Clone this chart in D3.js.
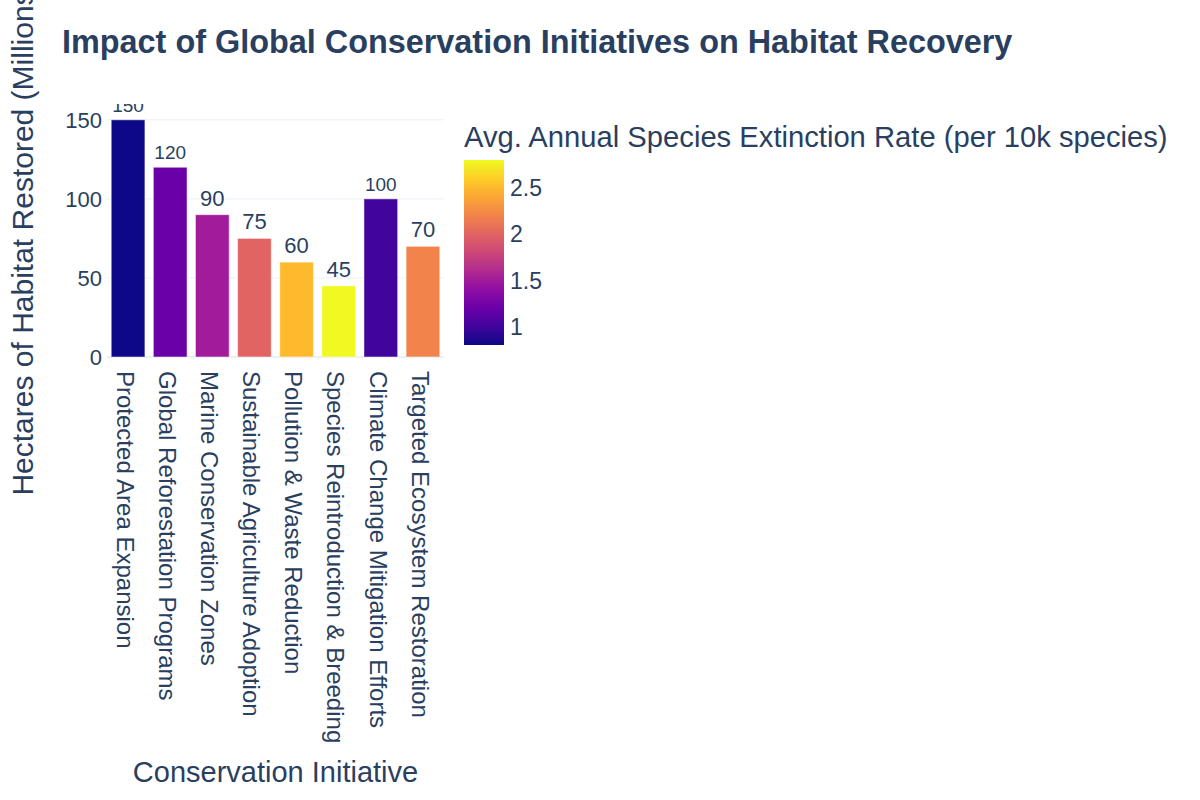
<!DOCTYPE html>
<html>
<head>
<meta charset="utf-8">
<script src="https://cdn.jsdelivr.net/npm/d3@7"></script>
<style>
  body { margin: 0; background: #fff; }
  svg { font-family: "Liberation Sans", Arial, sans-serif; }
</style>
</head>
<body>
<div id="chart"></div>
<script>
// chart data
var initiatives = [
  "Protected Area Expansion",
  "Global Reforestation Programs",
  "Marine Conservation Zones",
  "Sustainable Agriculture Adoption",
  "Pollution & Waste Reduction",
  "Species Reintroduction & Breeding",
  "Climate Change Mitigation Efforts",
  "Targeted Ecosystem Restoration"
];
var hectares = [150, 120, 90, 75, 60, 45, 100, 70];
var extinctionRate = [0.8, 1.2, 1.5, 2.0, 2.5, 2.8, 1.0, 2.2];
var yTicks = [0, 50, 100, 150];
var colorTicks = [1, 1.5, 2, 2.5];

var width = 1200, height = 800;
var textColor = "#2a3f5f";

// plot area
var plotLeft = 107, plotRight = 444, plotTop = 104, plotBottom = 357;

var svg = d3.select("#chart").append("svg")
  .attr("width", width)
  .attr("height", height);

var x = d3.scaleBand()
  .domain(initiatives)
  .range([plotLeft, plotRight])
  .paddingInner(0.2)
  .paddingOuter(0.1);

var y = d3.scaleLinear()
  .domain([0, 160])
  .range([plotBottom, plotTop]);

var color = d3.scaleSequential(d3.interpolatePlasma)
  .domain([d3.min(extinctionRate), d3.max(extinctionRate)]);

// gridlines
svg.append("g")
  .selectAll("line")
  .data(yTicks)
  .enter()
  .append("line")
  .attr("x1", plotLeft).attr("x2", plotRight)
  .attr("y1", function(d) { return y(d); })
  .attr("y2", function(d) { return y(d); })
  .attr("stroke", "#ebf0f8")
  .attr("stroke-width", function(d) { return d === 0 ? 2 : 1; });

// y tick labels
svg.append("g")
  .selectAll("text")
  .data(yTicks)
  .enter()
  .append("text")
  .attr("x", plotLeft - 5)
  .attr("y", function(d) { return y(d); })
  .attr("dy", "0.36em")
  .attr("text-anchor", "end")
  .attr("font-size", 22)
  .attr("fill", textColor)
  .text(function(d) { return d; });

svg.append("clipPath")
  .attr("id", "plot-clip")
  .append("rect")
  .attr("x", plotLeft).attr("y", plotTop)
  .attr("width", plotRight - plotLeft).attr("height", plotBottom - plotTop);

// bars
svg.append("g")
  .selectAll("rect")
  .data(initiatives)
  .enter()
  .append("rect")
  .attr("x", function(d) { return x(d); })
  .attr("y", function(d, i) { return y(hectares[i]); })
  .attr("width", x.bandwidth())
  .attr("height", function(d, i) { return y(0) - y(hectares[i]); })
  .attr("fill", function(d, i) { return color(extinctionRate[i]); })
  .attr("stroke", "rgba(255,255,255,0.5)")
  .attr("stroke-width", 1);

// value labels above bars, shrunk to fit the bar width
svg.append("g")
  .attr("clip-path", "url(#plot-clip)")
  .selectAll("text")
  .data(initiatives)
  .enter()
  .append("text")
  .attr("x", function(d) { return x(d) + x.bandwidth() / 2; })
  .attr("text-anchor", "middle")
  .attr("font-size", 22)
  .attr("fill", textColor)
  .text(function(d, i) { return hectares[i]; })
  .each(function(d, i) {
    var fs = 22;
    var w = this.getComputedTextLength();
    if (w > x.bandwidth() - 2) {
      fs = fs * (x.bandwidth() - 2) / w;
    }
    d3.select(this)
      .attr("font-size", fs)
      .attr("y", y(hectares[i]) - 3 - fs * 0.27);
  });

// x tick labels (rotated)
svg.append("g")
  .selectAll("text")
  .data(initiatives)
  .enter()
  .append("text")
  .attr("transform", function(d) {
    return "translate(" + (x(d) + x.bandwidth() / 2) + "," + (plotBottom + 14) + ") rotate(90)";
  })
  .attr("dy", "0.47em")
  .attr("font-size", 24)
  .attr("fill", textColor)
  .text(function(d) { return d; });

// axis titles
svg.append("text")
  .attr("x", (plotLeft + plotRight) / 2)
  .attr("y", 782)
  .attr("text-anchor", "middle")
  .attr("font-size", 29)
  .attr("fill", textColor)
  .text("Conservation Initiative");

svg.append("text")
  .attr("transform", "translate(33,238) rotate(-90)")
  .attr("text-anchor", "middle")
  .attr("font-size", 30)
  .attr("fill", textColor)
  .text("Hectares of Habitat Restored (Millions)");

// title
svg.append("text")
  .attr("x", 62)
  .attr("y", 53)
  .attr("font-size", 32.4)
  .attr("font-weight", "bold")
  .attr("fill", textColor)
  .text("Impact of Global Conservation Initiatives on Habitat Recovery");

// colorbar
var cbX = 464, cbW = 40, cbTop = 160, cbBottom = 345;
var cScale = d3.scaleLinear()
  .domain(color.domain())
  .range([cbBottom, cbTop]);

var grad = svg.append("defs").append("linearGradient")
  .attr("id", "cb-grad")
  .attr("x1", 0).attr("y1", 1).attr("x2", 0).attr("y2", 0);
grad.selectAll("stop")
  .data(d3.range(0, 1.01, 0.1))
  .enter()
  .append("stop")
  .attr("offset", function(d) { return d; })
  .attr("stop-color", function(d) { return d3.interpolatePlasma(d); });

svg.append("rect")
  .attr("x", cbX).attr("y", cbTop)
  .attr("width", cbW).attr("height", cbBottom - cbTop)
  .attr("fill", "url(#cb-grad)");

svg.append("g")
  .selectAll("text")
  .data(colorTicks)
  .enter()
  .append("text")
  .attr("x", cbX + cbW + 6)
  .attr("y", function(d) { return cScale(d); })
  .attr("dy", "0.36em")
  .attr("font-size", 23)
  .attr("fill", textColor)
  .text(function(d) { return d; });

svg.append("text")
  .attr("x", cbX)
  .attr("y", 147)
  .attr("font-size", 29.2)
  .attr("fill", textColor)
  .text("Avg. Annual Species Extinction Rate (per 10k species)");
</script>
</body>
</html>
